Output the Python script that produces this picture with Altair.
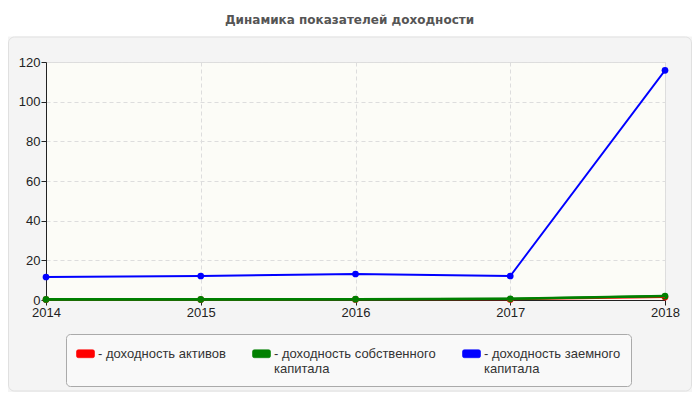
import altair as alt
import pandas as pd

years = [2014, 2015, 2016, 2017, 2018]
series_names = [
    "доходность активов",
    "доходность собственного капитала",
    "доходность заемного капитала",
]
assets = [0.2, 0.2, 0.3, 0.3, 1.5]
equity = [0.3, 0.3, 0.4, 0.6, 2.0]
borrowed = [11.6, 12.1, 13.1, 12.1, 115.8]
colors = ["#ff0000", "#008000", "#0000ff"]
y_ticks = [0, 20, 40, 60, 80, 100, 120]

rows = []
for name, vals in zip(series_names, [assets, equity, borrowed]):
    for yr, v in zip(years, vals):
        rows.append({"year": yr, "value": v, "series": name})
df = pd.DataFrame(rows)

W, H = 619, 238
FONT = "Liberation Sans"

x_enc = alt.X(
    "year:Q",
    scale=alt.Scale(domain=[2014, 2018], nice=False),
    axis=alt.Axis(values=years, format="d", title=None, grid=True,
                  gridDash=[4, 3], gridColor="#dddddd", domainColor="#222222",
                  tickColor="#222222", tickSize=5, labelFontSize=13,
                  labelColor="#222222", labelPadding=1, labelFlush=False,
                  labelFont=FONT),
)
y_enc = alt.Y(
    "value:Q",
    scale=alt.Scale(domain=[0, 120], nice=False),
    axis=alt.Axis(values=y_ticks, title=None, grid=True, gridDash=[4, 3],
                  gridColor="#dddddd", domainColor="#222222",
                  tickColor="#222222", tickSize=5, labelFontSize=13,
                  labelColor="#222222", labelPadding=1, labelFont=FONT),
)

one = pd.DataFrame({"k": [0]})
# white strip above the grey panel (title area)
top_strip = alt.Chart(one).mark_rect(fill="white", strokeWidth=0, clip=False).encode(
    x=alt.value(-38), x2=alt.value(W + 27), y=alt.value(-54), y2=alt.value(-25.5)
)
# rounded border of the grey panel
panel_border = alt.Chart(one).mark_rect(
    fillOpacity=0, stroke="#e0e0e0", strokeWidth=1, cornerRadius=6, clip=False
).encode(x=alt.value(-37.5), x2=alt.value(W + 26.5), y=alt.value(-25), y2=alt.value(329))

rect_path = ("M-0.8,-0.44H0.8Q1,-0.44,1,-0.24V0.24Q1,0.44,0.8,0.44H-0.8"
             "Q-1,0.44,-1,0.24V-0.24Q-1,-0.44,-0.8,-0.44Z")

color_scale = alt.Scale(domain=series_names, range=colors)
legend = alt.Legend(
    title=None, orient="none", legendX=20, legendY=272,
    direction="horizontal", columns=3, columnPadding=25,
    fillColor="#f9f9f9", strokeColor="#aaaaaa", cornerRadius=4,
    padding=10, symbolType=rect_path, symbolSize=324,
    symbolStrokeWidth=0.6, symbolStrokeColor="#666666", symbolOpacity=1,
    labelFont=FONT, labelFontSize=13, labelColor="#333333",
    labelLimit=400, labelOffset=3,
    labelExpr="indexof(datum.label, ' капитала') > 0 ? ['- ' + replace(datum.label, ' капитала', ''), 'капитала'] : ['- ' + datum.label, ' ']",
)

color_enc = alt.Color("series:N", scale=color_scale, legend=legend)

points = alt.Chart(df).mark_point(filled=True, opacity=1, shape="circle", size=45).encode(
    x=x_enc, y=y_enc, color=color_enc,
)

lines = alt.Chart(df).mark_line(interpolate="linear", strokeWidth=1.9).encode(
    x=x_enc, y=y_enc, color=color_enc, order=alt.Order("year:Q"),
)

# the equity series is drawn a little heavier, as in the original
equity_line = alt.Chart(df).transform_filter(
    alt.datum.series == series_names[1]
).mark_line(interpolate="linear", strokeWidth=2.6).encode(
    x=x_enc, y=y_enc, color=color_enc, order=alt.Order("year:Q"),
)

chart = alt.layer(top_strip, panel_border, points, lines, equity_line).properties(
    width=W, height=H,
    title=alt.TitleParams(
        "Динамика показателей доходности", font="DejaVu Sans", fontSize=12,
        fontWeight="bold", color="#555555", offset=-19, anchor="middle", dx=-6,
    ),
    autosize=alt.AutoSizeParams(type="none"),
    padding={"left": 38, "top": 54, "right": 27, "bottom": 92},
    background="#f4f4f4",
).configure_view(fill="#fcfcf7", stroke="#dedede")

chart.save("out.html", embed_options={"renderer": "svg", "actions": False})
